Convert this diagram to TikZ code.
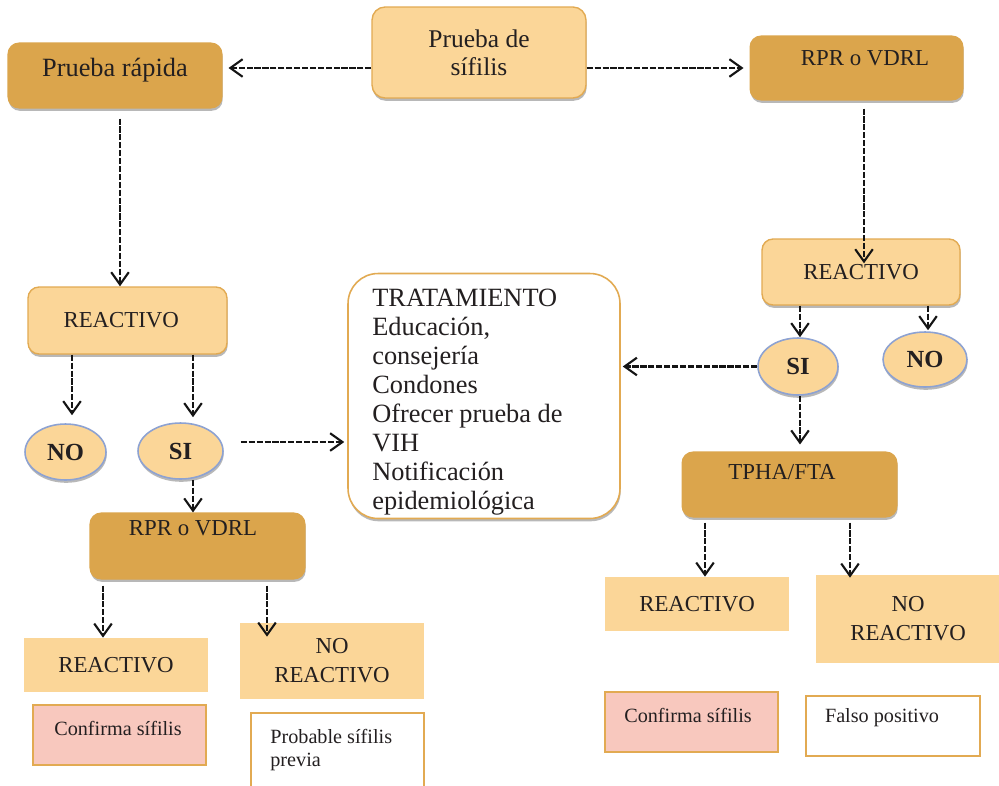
\documentclass[tikz,border=0pt]{standalone}
\usepackage{fontspec}
\setmainfont{Liberation Serif}
\usetikzlibrary{arrows.meta,shadows,shapes.geometric,calc}
\definecolor{lightor}{HTML}{FBD698}
\definecolor{darkor}{HTML}{DBA54C}
\definecolor{edgeor}{HTML}{E2AA52}
\definecolor{ellblue}{HTML}{8DA2D2}
\definecolor{pinkb}{HTML}{F8C8BE}
\definecolor{txt}{HTML}{231F20}
\newcommand{\fntL}{\fontsize{14.5}{16}\selectfont}
\newcommand{\fntC}{\fontsize{13}{16.4}\selectfont}
\newcommand{\fntS}{\fontsize{11.5}{13}\selectfont}
\newcommand{\fntT}{\fontsize{15}{16.5}\selectfont}
\newcommand{\fntE}{\fontsize{14}{15}\selectfont}
\begin{document}
\begin{tikzpicture}[x=0.02cm,y=-0.02cm,
  shd/.style={drop shadow={shadow xshift=0.4pt,shadow yshift=-1.6pt,fill=black!55}},
  lbox/.style={rectangle, rounded corners=0.22cm, fill=lightor, draw=edgeor, line width=0.8pt, shd, text=txt, inner sep=0pt, align=center},
  dbox/.style={rectangle, rounded corners=0.22cm, fill=darkor, draw=darkor, line width=0.6pt, shd, inner sep=0pt},
  ell/.style={ellipse, fill=lightor, draw=ellblue, line width=0.9pt, shd, font=\bfseries\fntE, text=txt, inner sep=0pt},
  flat/.style={rectangle, fill=lightor, inner sep=0pt, text=txt, align=center},
  res/.style={rectangle, draw=edgeor, line width=1pt, inner sep=0pt},
  lbl/.style={text=txt, inner sep=0pt, align=center},
  arr/.style={-{Straight Barb[length=7pt,width=10pt,line width=1.2pt]}, line width=1.4pt, draw=black!92, dash pattern=on 3.5pt off 1pt}
]
\clip (0,0) rectangle (999,785);
\fill[white] (0,0) rectangle (999,785);

% top row
\node[lbox, minimum width=4.28cm, minimum height=1.82cm, rounded corners=0.26cm, font=\fntL] (sif) at (479,52.5) {Prueba de\\sífilis};
\node[dbox, minimum width=4.28cm, minimum height=1.30cm] (rapida) at (115,75.5) {};
\node[lbl, font=\fontsize{15}{17}\selectfont] (trapida) at (115,70) {Prueba rápida};
\node[dbox, minimum width=4.26cm, minimum height=1.28cm] (rprA) at (856.5,68) {};
\node[lbl, font=\fntC] (trprA) at (865,58) {RPR o VDRL};

% left column
\node[lbox, minimum width=3.98cm, minimum height=1.34cm, font=\fntC] (reacA) at (127.5,320.5) {\hspace*{-0.25cm}REACTIVO};
\node[ell, minimum width=1.62cm, minimum height=1.12cm] (noA) at (65.5,452) {NO};
\node[ell, minimum width=1.70cm, minimum height=1.12cm] (siA) at (180.5,451) {SI};
\node[dbox, minimum width=4.30cm, minimum height=1.32cm] (rprB) at (197.5,546) {};
\node[lbl, font=\fntC] (trprB) at (193,528) {RPR o VDRL};
\node[flat, minimum width=3.68cm, minimum height=1.08cm, font=\fntC] (reacB) at (116,665) {REACTIVO};
\node[flat, minimum width=3.68cm, minimum height=1.52cm, font=\fntC] (noreacB) at (332,661) {NO\\REACTIVO};
\node[res, fill=pinkb, minimum width=3.46cm, minimum height=1.20cm] (confB) at (119.5,735) {};
\node[lbl, font=\fntS] (tconfB) at (118,728) {Confirma sífilis};
\node[res, fill=white, minimum width=3.46cm, minimum height=1.64cm] (probB) at (337.5,754) {};
\node[lbl, font=\fntS, align=left, anchor=north west] (tprobB) at (270,729) {Probable sífilis\\previa};

% treatment
\node[rectangle, rounded corners=0.6cm, fill=white, draw=edgeor, line width=0.9pt, shd,
      minimum width=5.44cm, minimum height=4.90cm, inner sep=0pt] (trat) at (484,396) {};
\node[lbl, align=left, anchor=west, font=\fntT] (ttrat) at (372,402) {TRATAMIENTO\\Educación,\\consejería\\Condones\\Ofrecer prueba de\\VIH\\Notificación\\epidemiológica};

% right column
\node[lbox, minimum width=3.96cm, minimum height=1.32cm, font=\fntC] (reacC) at (861,272) {REACTIVO};
\node[ell, minimum width=1.60cm, minimum height=1.14cm] (siC) at (798,366.5) {SI};
\node[ell, minimum width=1.68cm, minimum height=1.10cm] (noC) at (925,359.5) {NO};
\node[dbox, minimum width=4.30cm, minimum height=1.30cm] (tpha) at (789.5,484.5) {};
\node[lbl, font=\fntC] (ttpha) at (782,472) {TPHA/FTA};
\node[flat, minimum width=3.68cm, minimum height=1.08cm, font=\fntC] (reacD) at (697,604) {REACTIVO};
\node[flat, minimum width=3.68cm, minimum height=1.76cm, font=\fntC] (noreacD) at (908,619) {NO\\REACTIVO};
\node[res, fill=pinkb, minimum width=3.46cm, minimum height=1.20cm] (confD) at (691.5,722) {};
\node[lbl, font=\fntS] (tconfD) at (688,715) {Confirma sífilis};
\node[res, fill=white, minimum width=3.48cm, minimum height=1.20cm] (falso) at (893,726) {};
\node[lbl, font=\fntS] (tfalso) at (882,718) {Falso positivo};

% connectors
\draw[arr, shorten >=0.12cm] (sif.west |- 0,68) -- (rapida.east |- 0,68);
\draw[arr, shorten >=0.12cm] (sif.east |- 0,68) -- (rprA.west |- 0,68);
\draw[arr, shorten <=0.2cm] (120,0 |- rapida.south) -- (120,0 |- reacA.north);
\draw[arr, shorten >=0.16cm] (72,0 |- reacA.south) -- (72,0 |- noA.north);
\draw[arr, shorten >=0.1cm] (193,0 |- reacA.south) -- (193,0 |- siA.north);
\draw[arr, shorten <=0.34cm, shorten >=0.06cm] (siA.east |- 0,442) -- (trat.west |- 0,442);
\draw[arr] (193,0 |- siA.south) -- (193,0 |- rprB.north);
\draw[arr, shorten <=0.12cm] (103,0 |- rprB.south) -- (103,0 |- reacB.north);
\draw[arr, shorten <=0.12cm, shorten >=-0.28cm] (267,0 |- rprB.south) -- (267,0 |- noreacB.north);
\draw[arr, shorten <=0.16cm, shorten >=-0.5cm] (864,0 |- rprA.south) -- (864,0 |- reacC.north);
\draw[arr] (800,0 |- reacC.south) -- (800,0 |- siC.north);
\draw[arr, shorten >=0.02cm] (928,0 |- reacC.south) -- (928,0 |- noC.north);
\draw[arr, shorten >=0.04cm] (siC.west) -- (trat.east |- siC.west);
\draw[arr, shorten >=0.14cm] (800,0 |- siC.south) -- (800,0 |- tpha.north);
\draw[arr, shorten <=0.1cm] (705,0 |- tpha.south) -- (705,0 |- reacD.north);
\draw[arr, shorten <=0.1cm, shorten >=-0.06cm] (850,0 |- tpha.south) -- (850,0 |- noreacD.north);
\end{tikzpicture}
\end{document}
